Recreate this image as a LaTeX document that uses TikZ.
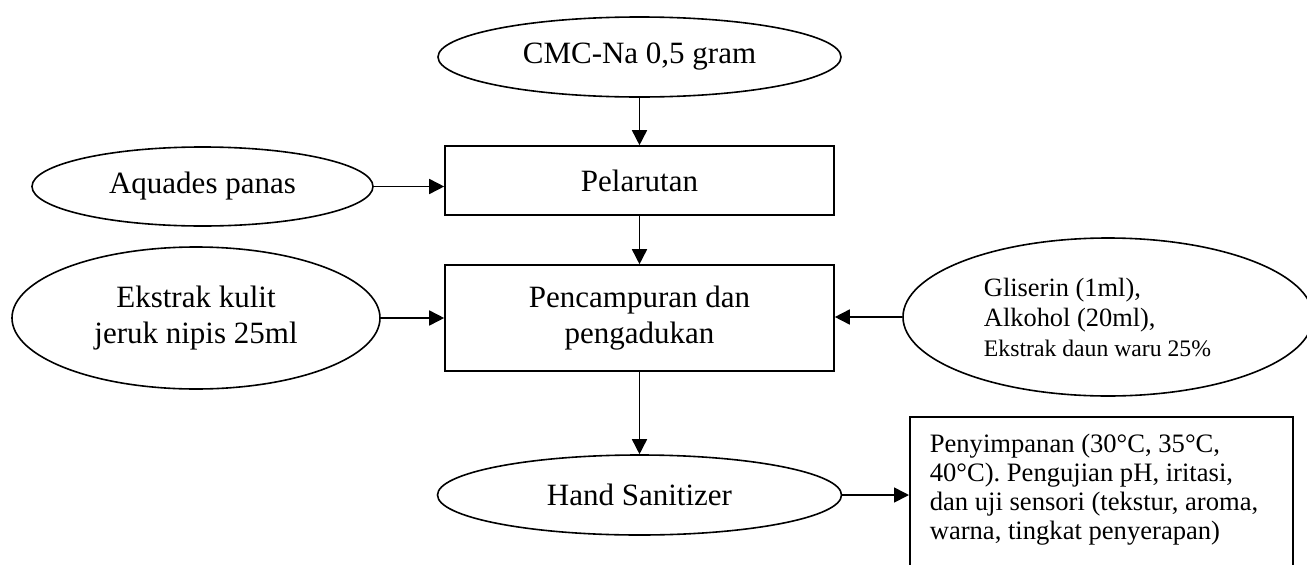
\documentclass[tikz,border=0pt]{standalone}
\usepackage{fontspec}
\setmainfont{Liberation Serif}
\usetikzlibrary{shapes.geometric,arrows.meta}
\tikzset{
  oval/.style={ellipse, draw, line width=1.6pt, inner sep=0pt, align=center,
    font=\fontsize{31}{36}\selectfont},
  procbox/.style={rectangle, draw, line width=1.6pt, inner sep=0pt, align=center,
    font=\fontsize{31}{36}\selectfont},
  flow/.style={line width=1.6pt, -{Triangle[length=15pt,width=15pt]}}
}
\begin{document}
\begin{tikzpicture}[x=1pt,y=-1pt]
\clip (0,0) rectangle (1307,565);
\fill[white] (0,0) rectangle (1307,565);

\node[oval, minimum width=403pt, minimum height=80pt] (cmc) at (639.5,57) {CMC-Na 0,5 gram};
\node[procbox, minimum width=389pt, minimum height=69pt] (pel) at (639.5,180.5) {Pelarutan};
\node[procbox, minimum width=389pt, minimum height=106pt] (pen) at (639.5,318) {Pencampuran dan\\pengadukan};
\node[oval, minimum width=404pt, minimum height=80pt] (hs) at (639.5,495) {Hand Sanitizer};

\node[oval, minimum width=341pt, minimum height=79pt] (aq) at (202.5,186.5) {Aquades panas};
\node[oval, minimum width=368pt, minimum height=142pt] (ek) at (196,318) {Ekstrak kulit\\jeruk nipis 25ml};

\node[oval, align=left, minimum width=410pt, minimum height=158pt,
  font=\fontsize{26.4}{30}\selectfont] (gl) at (1108,317)
  {Gliserin (1ml),\\Alkohol (20ml),\\{\fontsize{23.7}{30}\selectfont Ekstrak daun waru 25\%}\hspace*{21pt}};

\node[rectangle, draw, line width=1.6pt, anchor=north west, inner xsep=20pt, inner ysep=0pt,
  minimum width=383pt, align=left, font=\fontsize{26.6}{29}\selectfont] (store) at (909,416)
  {\rule{0pt}{36pt}Penyimpanan (30°C, 35°C,\\40°C). Pengujian pH, iritasi,\\\makebox[343pt][l]{dan uji sensori (tekstur, aroma,}\\warna, tingkat penyerapan)\rule[-60pt]{0pt}{60pt}};

\draw[flow] (cmc.south) -- (pel.north);
\draw[flow] (pel.south) -- (pen.north);
\draw[flow] (pen.south) -- (hs.north);
\draw[flow] (aq.east) -- (aq.east -| pel.west);
\draw[flow] (ek.east) -- (ek.east -| pen.west);
\draw[flow] (gl.west) -- (gl.west -| pen.east);
\draw[flow] (hs.east) -- (hs.east -| store.west);
\end{tikzpicture}
\end{document}
